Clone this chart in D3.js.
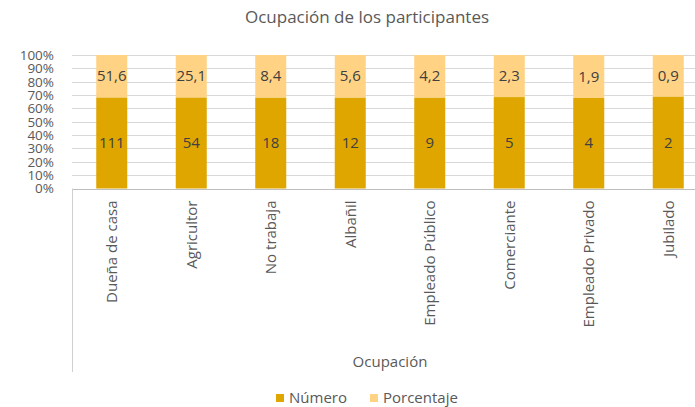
<!DOCTYPE html>
<html>
<head>
<meta charset="utf-8">
<script src="https://cdn.jsdelivr.net/npm/d3@7"></script>
<style>
  body { margin: 0; background: #fff; }
  svg { font-family: "Open Sans", sans-serif; }
</style>
</head>
<body>
<svg id="chart" width="695" height="407"></svg>
<script>
// data
const categories = ["Dueña de casa", "Agricultor", "No trabaja", "Albañil",
  "Empleado Público", "Comerciante", "Empleado Privado", "Jubilado"];
const numero = [111, 54, 18, 12, 9, 5, 4, 2];
const porcentaje = [51.6, 25.1, 8.4, 5.6, 4.2, 2.3, 1.9, 0.9];
const seriesNames = ["Número", "Porcentaje"];
const yTicks = [0, 0.1, 0.2, 0.3, 0.4, 0.5, 0.6, 0.7, 0.8, 0.9, 1];

const colors = { "Número": "#DFA600", "Porcentaje": "#FFD383" };
const textColor = "#595959";

const margin = { left: 72, right: -13, top: 55, bottom: 218.5 };
const width = 695, height = 407;

const svg = d3.select("#chart");

const rows = categories.map((c, i) => ({ cat: c, "Número": numero[i], "Porcentaje": porcentaje[i] }));
const stack = d3.stack().keys(seriesNames).offset(d3.stackOffsetExpand);
const layers = stack(rows);

const x = d3.scaleBand()
  .domain(categories)
  .range([margin.left, width - margin.right])
  .paddingInner(0.61)
  .paddingOuter(0.305);

const y = d3.scaleLinear()
  .domain([0, 1])
  .range([height - margin.bottom, margin.top]);

// title
svg.append("text")
  .attr("x", 367).attr("y", 23)
  .attr("text-anchor", "middle")
  .attr("fill", textColor)
  .style("font-size", "17px")
  .text("Ocupación de los participantes");

// gridlines
svg.append("g")
  .selectAll("line")
  .data(yTicks)
  .enter().append("line")
  .attr("x1", margin.left).attr("x2", width - margin.right)
  .attr("y1", d => Math.round(y(d)) + 0.5).attr("y2", d => Math.round(y(d)) + 0.5)
  .attr("stroke", "#d9d9d9");

// y axis labels (they crowd each other in the original too)
const yAxis = d3.axisLeft(y).tickValues(yTicks).tickFormat(d3.format(".0%")).tickSize(0).tickPadding(0);
const gy = svg.append("g")
  .attr("transform", "translate(54,0)")
  .call(yAxis);
gy.select(".domain").remove();
gy.selectAll("text")
  .attr("fill", textColor)
  .style("font-size", "13.5px")
  .style("font-family", "Open Sans, sans-serif");

// bars
const groups = svg.append("g").selectAll("g")
  .data(layers)
  .enter().append("g")
  .attr("fill", d => colors[d.key]);

groups.selectAll("rect")
  .data(d => d)
  .enter().append("rect")
  .attr("x", d => x(d.data.cat))
  .attr("width", x.bandwidth())
  .attr("y", d => y(d[1]))
  .attr("height", d => y(d[0]) - y(d[1]));

// data labels
layers.forEach(layer => {
  svg.append("g").selectAll("text")
    .data(layer)
    .enter().append("text")
    .attr("x", d => x(d.data.cat) + x.bandwidth() / 2)
    .attr("y", d => (y(d[0]) + y(d[1])) / 2)
    .attr("dy", "0.35em")
    .attr("text-anchor", "middle")
    .attr("fill", "#404040")
    .style("font-size", "15px")
    .text(d => String(d.data[layer.key]).replace(".", ","));
});

// category axis
const baseY = y(0);
svg.append("line")
  .attr("x1", margin.left).attr("x2", width - margin.right)
  .attr("y1", Math.round(baseY) + 0.5).attr("y2", Math.round(baseY) + 0.5)
  .attr("stroke", "#bfbfbf");
svg.append("line")
  .attr("x1", margin.left + 0.5).attr("x2", margin.left + 0.5)
  .attr("y1", baseY).attr("y2", 372)
  .attr("stroke", "#d0d0d0");

svg.append("g").selectAll("text")
  .data(categories)
  .enter().append("text")
  .attr("transform", d => "translate(" + (x(d) + x.bandwidth() / 2) + "," + (baseY + 12) + ") rotate(-90)")
  .attr("dy", "0.35em")
  .attr("text-anchor", "end")
  .attr("fill", textColor)
  .style("font-size", "15px")
  .text(d => d);

// axis title
svg.append("text")
  .attr("x", 390).attr("y", 367)
  .attr("text-anchor", "middle")
  .attr("fill", textColor)
  .style("font-size", "15px")
  .text("Ocupación");

// legend
const legend = svg.append("g").attr("transform", "translate(276,398)");
const legendX = [0, 94];
seriesNames.forEach((name, i) => {
  const lg = legend.append("g").attr("transform", "translate(" + legendX[i] + ",0)");
  lg.append("rect")
    .attr("x", 0).attr("y", -4)
    .attr("width", 8).attr("height", 8)
    .attr("fill", colors[name]);
  lg.append("text")
    .attr("x", 13).attr("y", 0)
    .attr("dy", "0.35em")
    .attr("fill", textColor)
    .style("font-size", "15px")
    .text(name);
});
</script>
</body>
</html>
